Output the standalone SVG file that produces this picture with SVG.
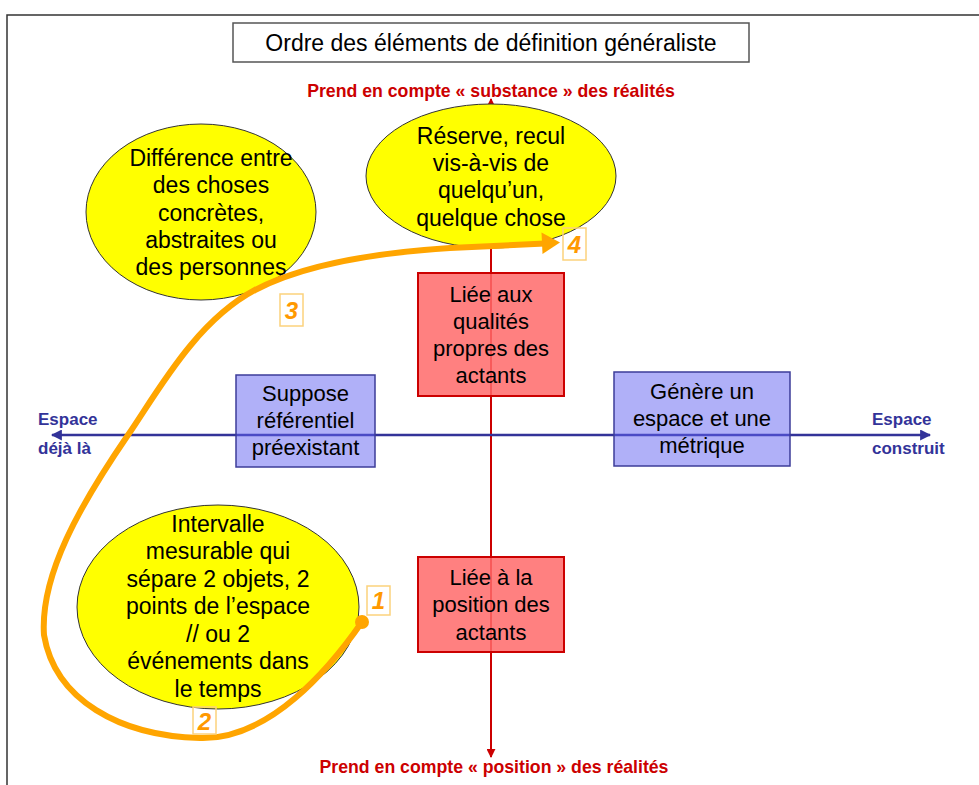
<svg xmlns="http://www.w3.org/2000/svg" width="979" height="785" viewBox="0 0 979 785">
<defs>
<style>
text{font-family:"Liberation Sans",Arial,sans-serif;text-anchor:middle;fill:#000}
.t{font-size:23px}
.b{font-size:22px}
.ax{font-size:17.7px;font-weight:bold;fill:#cc0000}
.sp{font-size:17px;font-weight:bold;fill:#333399;text-anchor:start}
.el{fill:#ffff00;stroke:#333;stroke-width:1}
.rb{fill:#ff6a6a;fill-opacity:0.85;stroke:#cc0000;stroke-width:2}
.bb{fill:#6161f1;fill-opacity:0.5;stroke:#3d3d99;stroke-width:1.5}
.nb{fill:none;stroke:#fcd27c;stroke-width:1.5}
.n{font-size:24px;font-weight:bold;font-style:italic;fill:#ff9900}
</style>
<marker id="ar" viewBox="0 0 10 10" refX="9" refY="5" markerWidth="9" markerHeight="9" markerUnits="userSpaceOnUse" orient="auto-start-reverse"><path d="M0,0 L10,5 L0,10 z" fill="#cc0000"/></marker>
<marker id="ab" viewBox="0 0 10 10" refX="9" refY="5" markerWidth="11" markerHeight="11" markerUnits="userSpaceOnUse" orient="auto-start-reverse"><path d="M0,0 L10,5 L0,10 z" fill="#333399"/></marker>
</defs>
<rect width="979" height="785" fill="#fff"/>
<path d="M7,785 V15 H979" fill="none" stroke="#333" stroke-width="1.5"/>
<g id="title">
<rect x="233" y="23" width="516" height="39" fill="#fff" stroke="#555" stroke-width="1.5"/>
<text x="491" y="51" style="font-size:23px">Ordre des éléments de définition généraliste</text>
</g>
<g id="axis-labels">
<text class="ax" x="491" y="97">Prend en compte « substance » des réalités</text>
<text class="ax" x="494" y="773">Prend en compte « position » des réalités</text>
<text class="sp" x="38" y="425">Espace</text>
<text class="sp" x="38" y="454">déjà là</text>
<text class="sp" x="872" y="425">Espace</text>
<text class="sp" x="872" y="454">construit</text>
</g>
<g id="connectors">
<line x1="491" y1="757" x2="491" y2="99" stroke="#cc0000" stroke-width="2" marker-end="url(#ar)" marker-start="url(#ar)"/>
<line x1="52" y1="435" x2="930" y2="435" stroke="#333399" stroke-width="2.5" marker-end="url(#ab)" marker-start="url(#ab)"/>
</g>
<g id="qualites">
<rect class="rb" x="418" y="273" width="146" height="123"/>
<text class="b" x="491" y="302">Liée aux</text>
<text class="b" x="491" y="329">qualités</text>
<text class="b" x="491" y="356">propres des</text>
<text class="b" x="491" y="383">actants</text>
</g>
<g id="position">
<rect class="rb" x="418" y="557" width="146" height="95"/>
<text class="b" x="491" y="585">Liée à la</text>
<text class="b" x="491" y="612">position des</text>
<text class="b" x="491" y="640">actants</text>
</g>
<g id="suppose">
<rect class="bb" x="236" y="375" width="139" height="92"/>
<text class="b" x="305.5" y="401">Suppose</text>
<text class="b" x="305.5" y="428">référentiel</text>
<text class="b" x="305.5" y="455">préexistant</text>
</g>
<g id="genere">
<rect class="bb" x="614" y="372" width="176" height="94"/>
<text class="b" x="702" y="399">Génère un</text>
<text class="b" x="702" y="426">espace et une</text>
<text class="b" x="702" y="453">métrique</text>
</g>
<g id="reserve">
<ellipse class="el" cx="491" cy="176" rx="125" ry="72"/>
<text class="t" x="491" y="144">Réserve, recul</text>
<text class="t" x="491" y="171">vis-à-vis de</text>
<text class="t" x="491" y="198">quelqu’un,</text>
<text class="t" x="491" y="226">quelque chose</text>
</g>
<g id="difference">
<ellipse class="el" cx="201" cy="212" rx="115" ry="88"/>
<text class="t" x="211" y="166">Différence entre</text>
<text class="t" x="211" y="193">des choses</text>
<text class="t" x="211" y="221">concrètes,</text>
<text class="t" x="211" y="248">abstraites ou</text>
<text class="t" x="211" y="275">des personnes</text>
</g>
<g id="intervalle">
<ellipse class="el" cx="218" cy="607" rx="141" ry="102"/>
<text class="t" x="218" y="532">Intervalle</text>
<text class="t" x="218" y="559">mesurable qui</text>
<text class="t" x="218" y="587">sépare 2 objets, 2</text>
<text class="t" x="218" y="614">points de l’espace</text>
<text class="t" x="218" y="642">// ou 2</text>
<text class="t" x="218" y="669">événements dans</text>
<text class="t" x="218" y="697">le temps</text>
</g>
<g id="parcours">
<path d="M362,622 C330,668 270,740 200,738 C120,736 55,700 44,635 C40,575 80,505 128,435 C157,393 195,322 255,290 C303,265 370,253 450,248 L545,243.6" fill="none" stroke="#ffa500" stroke-width="6" stroke-linejoin="round"/>
<circle cx="362" cy="622" r="7" fill="#ffa500"/>
<polygon points="560,242.5 541.5,232.5 542.5,254" fill="#ffa500"/>
</g>
<g id="numeros">
<rect class="nb" x="367" y="586" width="23" height="29"/>
<text class="n" x="378.5" y="609">1</text>
<rect class="nb" x="193" y="707" width="23" height="27"/>
<text class="n" x="204.5" y="730">2</text>
<rect class="nb" x="280" y="294" width="23" height="32"/>
<text class="n" x="291.5" y="319">3</text>
<rect class="nb" x="563" y="228" width="23" height="32"/>
<text class="n" x="574.5" y="253">4</text>
</g>
</svg>
